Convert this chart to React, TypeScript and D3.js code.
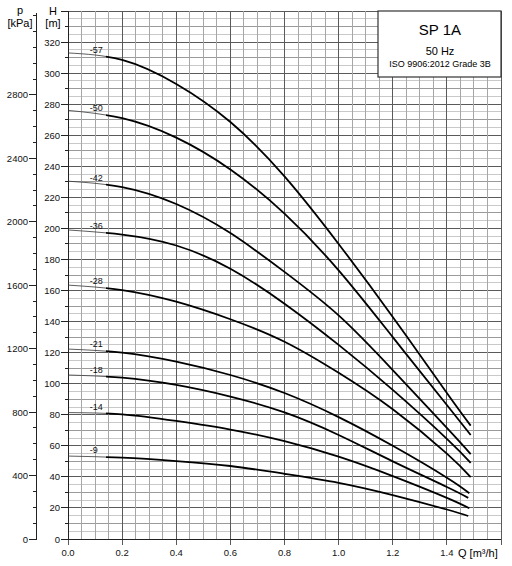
import * as d3 from "d3";

// pump curves SP 1A, H [m] read at these flow points (last point = curve end)
const qPoints = [0, 0.2, 0.4, 0.6, 0.8, 1.0, 1.2, 1.4];
const stages = ["-57", "-50", "-42", "-36", "-28", "-21", "-18", "-14", "-9"];
const qEnd = [1.488, 1.488, 1.488, 1.488, 1.488, 1.483, 1.479, 1.483, 1.479];

const h57 = [313, 308.5, 293, 268.5, 233.5, 190, 143, 94, 73];
const h50 = [276, 271, 258.5, 238, 209.5, 173, 130, 86.3, 67];
const h42 = [230.4, 226.6, 215.7, 197, 172, 144, 108.8, 71.5, 54.7];
const h36 = [199, 196, 189, 174, 151.5, 125, 96, 64.5, 49];
const h28 = [163.5, 160.3, 152.8, 141.5, 127, 107, 83.5, 55, 39.8];
const h21 = [122.3, 120, 114.2, 105.6, 94, 78.5, 60, 39.5, 29.5];
const h18 = [105.6, 103.9, 99.2, 91.7, 81.5, 67, 50, 33.5, 26.5];
const h14 = [81.4, 80.3, 76, 70.5, 63, 53, 40.5, 26.5, 19.8];
const h9 = [53.4, 52.4, 50.2, 47, 42, 36.2, 28.3, 19, 14.8];

const heads = [h57, h50, h42, h36, h28, h21, h18, h14, h9];

const qTicks = [0, 0.2, 0.4, 0.6, 0.8, 1.0, 1.2, 1.4];
const hTicks = [0, 20, 40, 60, 80, 100, 120, 140, 160, 180, 200, 220, 240, 260, 280, 300, 320];
const pTicks = [0, 400, 800, 1200, 1600, 2000, 2400, 2800];

const title = "SP 1A";
const freq = "50 Hz";
const norm = "ISO 9906:2012 Grade 3B";

const W = 512;
const H = 566;
const font = "'Liberation Sans', Arial, sans-serif";

const x = d3.scaleLinear().domain([0, 1.6]).range([68, 501]);
const y = d3.scaleLinear().domain([0, 340]).range([539, 11]);
const p = d3.scaleLinear().domain([0, 3300]).range([539, 15.6]);

const line = d3
  .line<[number, number]>()
  .x((d) => x(d[0]))
  .y((d) => y(d[1]))
  .curve(d3.curveNatural);

const thinEnd = 0.14;

export default function App() {
  const vLines = d3.range(0, 33).map((i) => ({ q: i * 0.05, major: i % 4 === 0 }));
  const hLines = d3.range(0, 69).map((i) => ({
    h: i * 5,
    kind: i % 4 === 0 ? 2 : i % 2 === 0 ? 1 : 0,
  }));
  const hColor = ["#c9c9c9", "#9a9a9a", "#5a5a5a"];

  const curves = heads.map((hs, k) => {
    const pts: [number, number][] = hs.map((h, i) => [
      i < qPoints.length ? qPoints[i] : qEnd[k],
      h,
    ]);
    return { name: stages[k], d: line(pts) || "", h0: hs[0], h1: hs[1] };
  });

  return (
    <svg
      width={W}
      height={H}
      style={{ position: "absolute", left: 0, top: 0, background: "#fff" }}
      fontFamily={font}
    >
      <defs>
        <clipPath id="thin">
          <rect x={0} y={0} width={x(thinEnd)} height={H} />
        </clipPath>
        <clipPath id="thick">
          <rect x={x(thinEnd)} y={0} width={W} height={H} />
        </clipPath>
      </defs>

      {/* grid */}
      <g shapeRendering="crispEdges">
        {[0, 1, 2].map((kind) =>
          hLines
            .filter((l) => l.kind === kind)
            .map((l) => (
              <line
                key={`h${l.h}`}
                x1={x(0)}
                x2={x(1.6)}
                y1={y(l.h)}
                y2={y(l.h)}
                stroke={hColor[kind]}
              />
            ))
        )}
        {vLines
          .filter((l) => !l.major)
          .map((l) => (
            <line key={`v${l.q}`} x1={x(l.q)} x2={x(l.q)} y1={y(340)} y2={y(0)} stroke="#a6a6a6" />
          ))}
        {vLines
          .filter((l) => l.major)
          .map((l) => (
            <line key={`V${l.q}`} x1={x(l.q)} x2={x(l.q)} y1={y(340)} y2={y(0) + 6} stroke="#5a5a5a" />
          ))}
      </g>

      {/* H axis */}
      <g shapeRendering="crispEdges" stroke="#222">
        <line x1={x(0)} x2={x(0)} y1={y(340)} y2={y(0) + 1} />
        {d3.range(0, 35).map((i) => (
          <line
            key={i}
            x1={x(0) - (i % 2 === 0 ? 7 : 3)}
            x2={x(0)}
            y1={y(i * 10)}
            y2={y(i * 10)}
          />
        ))}
        <line x1={x(0)} x2={x(1.6)} y1={y(0)} y2={y(0)} />
      </g>
      {hTicks.map((t) => (
        <text key={t} x={60} y={y(t) + 3.5} fontSize={9.5} textAnchor="end" fill="#111">
          {t}
        </text>
      ))}

      {/* p axis */}
      <g shapeRendering="crispEdges" stroke="#222">
        <line x1={36} x2={36} y1={13} y2={p(0) + 1} />
        {d3.range(0, 34).map((i) => (
          <line key={i} x1={36 - (i % 4 === 0 && i <= 28 ? 7 : 3)} x2={36} y1={p(i * 100)} y2={p(i * 100)} />
        ))}
      </g>
      {pTicks.map((t) => (
        <text key={t} x={28} y={p(t) + 3.5} fontSize={9.5} textAnchor="end" fill="#111">
          {t}
        </text>
      ))}

      {/* axis titles */}
      <text x={20} y={14} fontSize={11} textAnchor="middle">p</text>
      <text x={20} y={27} fontSize={11} textAnchor="middle">[kPa]</text>
      <text x={53} y={15} fontSize={11} textAnchor="middle">H</text>
      <text x={53} y={27} fontSize={11} textAnchor="middle">[m]</text>

      {/* Q axis labels */}
      {qTicks.map((t) => (
        <text key={t} x={x(t)} y={556} fontSize={9.5} textAnchor="middle" fill="#111">
          {d3.format(".1f")(t)}
        </text>
      ))}
      <text x={458} y={557} fontSize={11}>Q [m³/h]</text>

      {/* curves */}
      {curves.map((c) => (
        <g key={c.name}>
          <path d={c.d} fill="none" stroke="#333" strokeWidth={0.8} clipPath="url(#thin)" />
          <path d={c.d} fill="none" stroke="#000" strokeWidth={1.8} clipPath="url(#thick)" />
          <text x={x(0.08)} y={y((c.h0 + c.h1) / 2) - 3.5} fontSize={9} fill="#111">
            {c.name}
          </text>
        </g>
      ))}

      {/* title box */}
      <rect x={378} y={11} width={123} height={66} fill="#fff" stroke="#333" strokeWidth={1.2} />
      <text x={440} y={35} fontSize={15} textAnchor="middle">{title}</text>
      <text x={440} y={54.5} fontSize={11} textAnchor="middle">{freq}</text>
      <text x={440} y={67} fontSize={9} textAnchor="middle">{norm}</text>
    </svg>
  );
}
